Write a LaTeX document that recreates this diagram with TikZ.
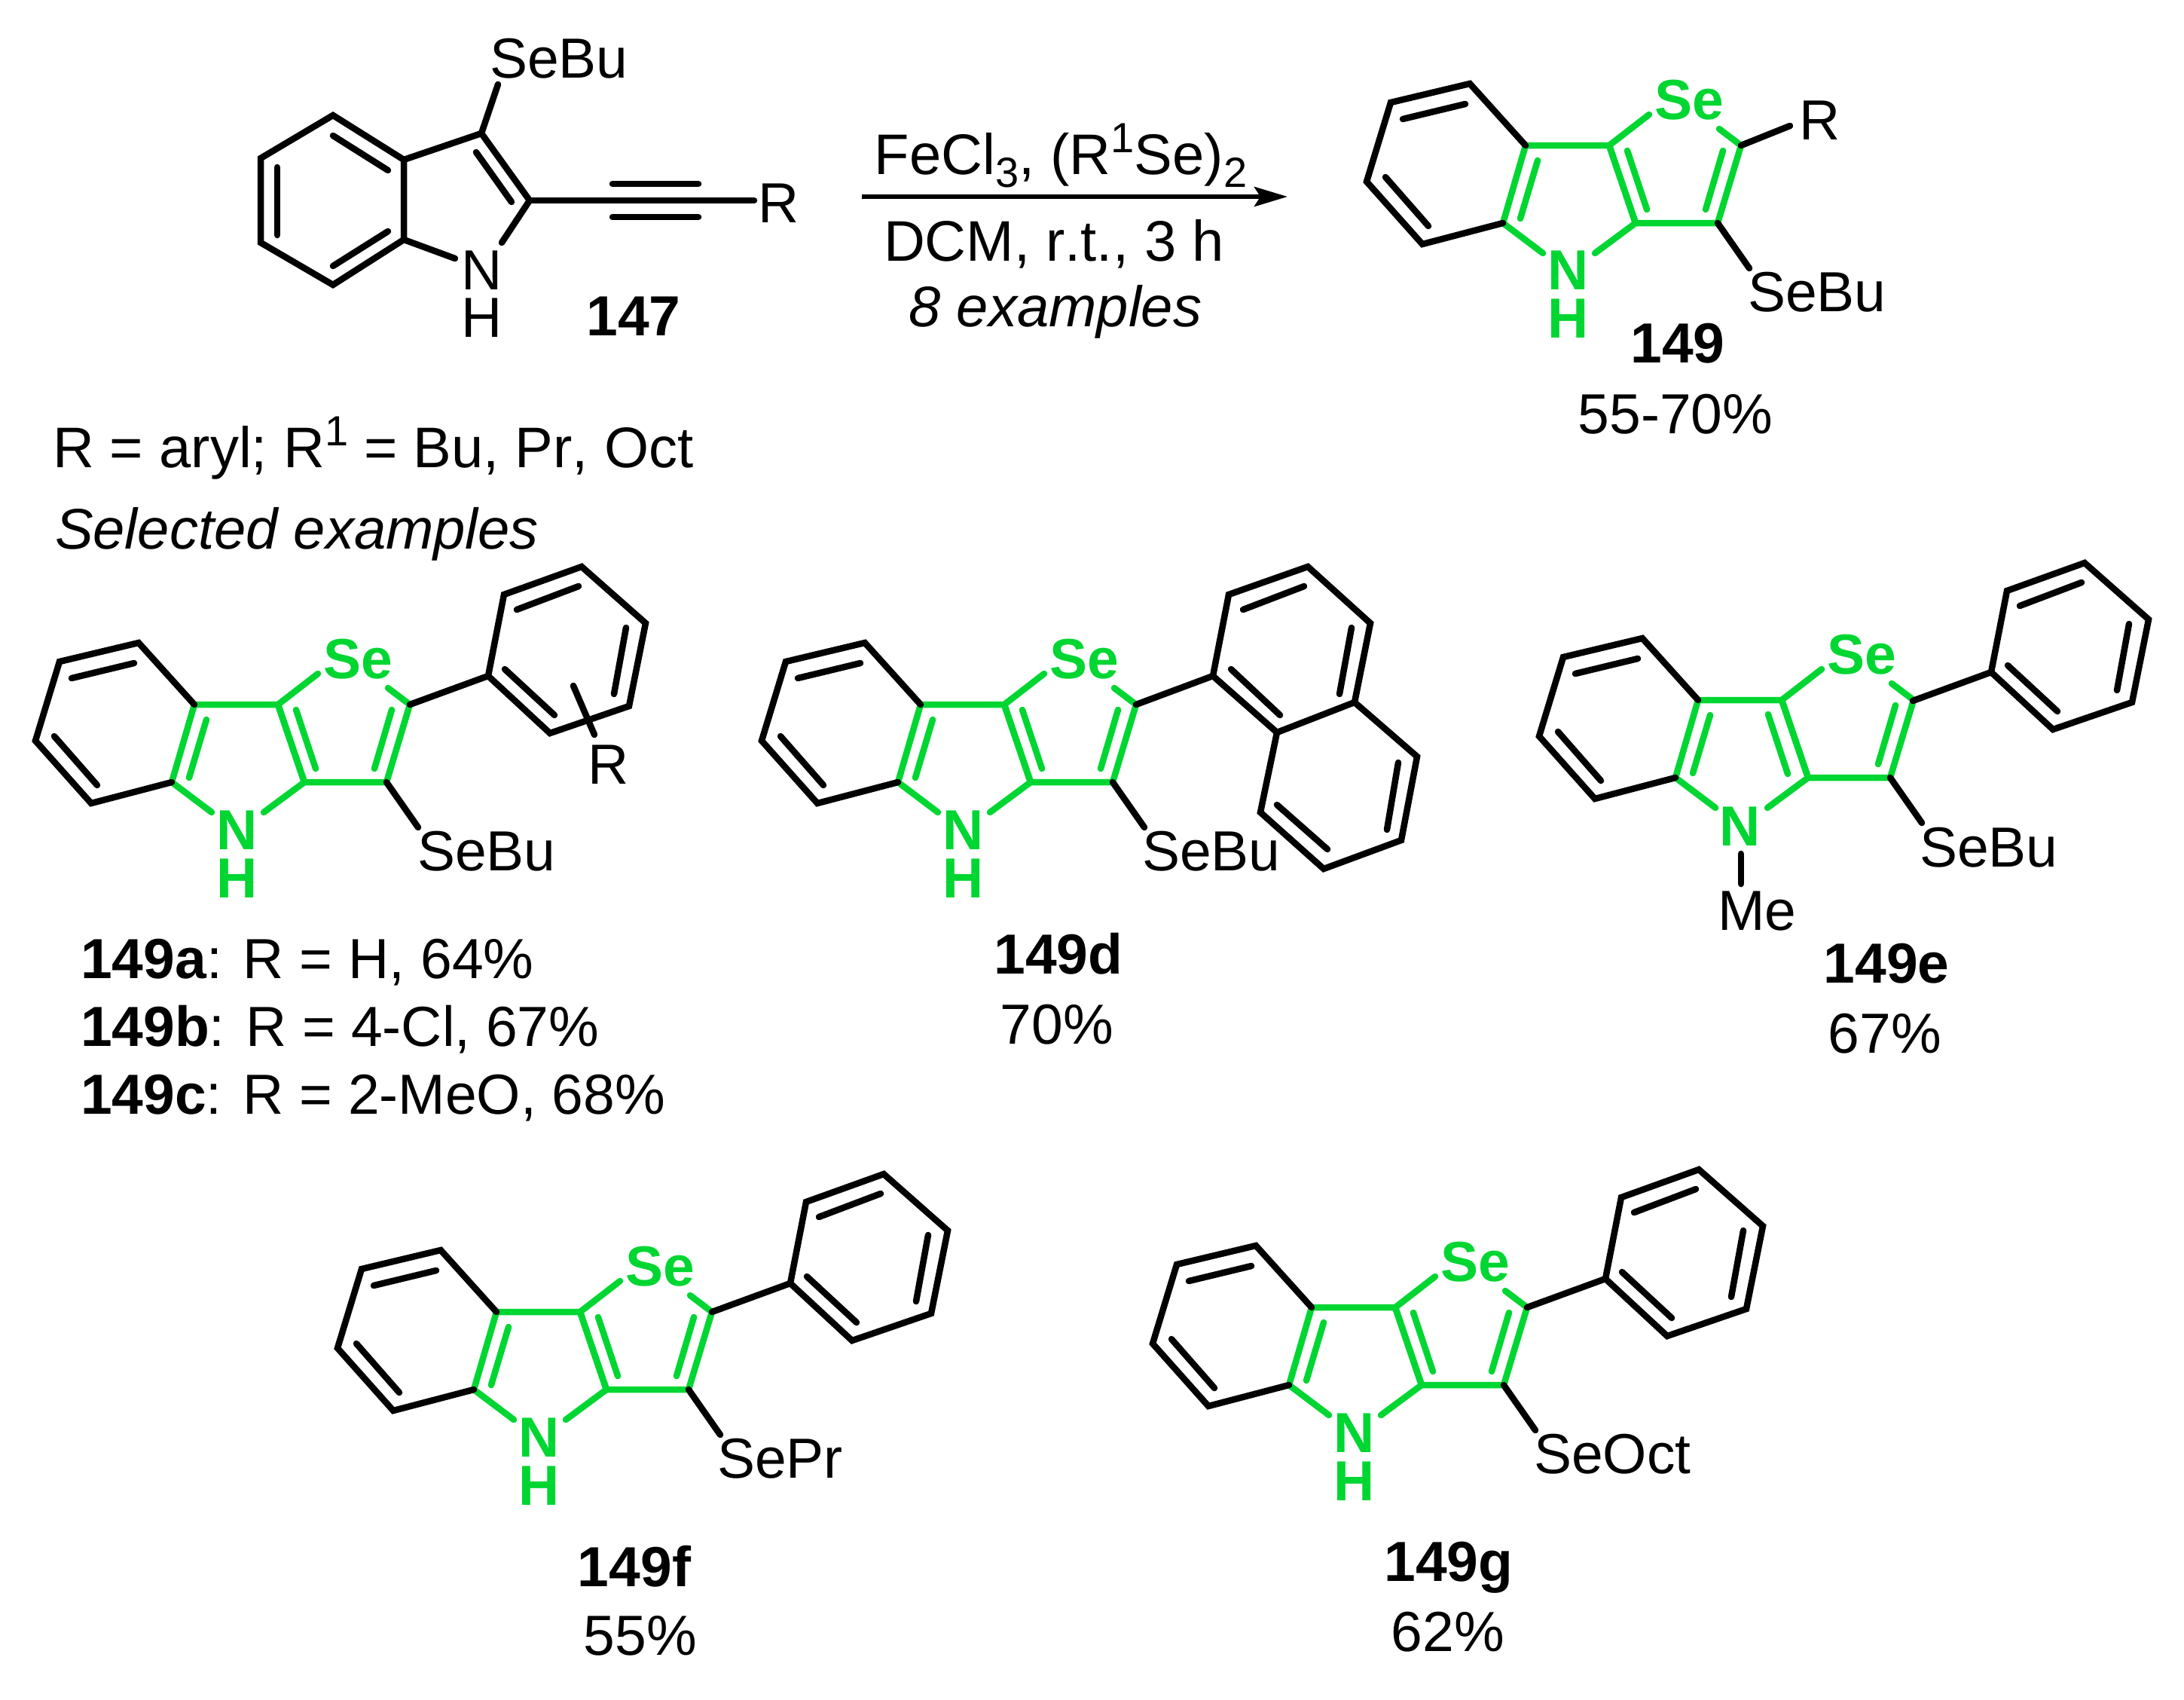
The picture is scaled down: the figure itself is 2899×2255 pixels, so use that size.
\documentclass[tikz,border=0pt]{standalone}
\usepackage{fontspec}
\setmainfont{Liberation Sans}[Kerning=Off]
\usetikzlibrary{arrows.meta}
\definecolor{hl}{HTML}{00D632}
\newcommand{\subx}[1]{\raisebox{-17pt}{\fontsize{56}{56}\selectfont #1}}
\newcommand{\supx}[1]{\raisebox{29pt}{\fontsize{56}{56}\selectfont #1}}
\tikzset{
  bk/.style={draw=black,line width=8.5pt,line cap=round,line join=miter},
  gb/.style={draw=hl,line width=8.5pt,line cap=round,line join=miter},
  txt/.style={inner sep=0pt,outer sep=0pt,font=\fontsize{75}{80}\selectfont,text=black},
  wtxt/.style={inner sep=0pt,outer sep=0pt,font=\fontsize{76}{80}\selectfont,text=black},
  gtxt/.style={inner sep=0pt,outer sep=0pt,font=\fontsize{75}{80}\selectfont\bfseries,text=hl},
  core/.pic={
    \coordinate (-F) at (258,935); \coordinate (-A) at (184,853); \coordinate (-B) at (79,878);
    \coordinate (-C) at (47,983); \coordinate (-D) at (121,1066); \coordinate (-E) at (228,1038);
    \coordinate (-G) at (369,935); \coordinate (-H) at (404,1038); \coordinate (-I) at (513,1038);
    \coordinate (-J) at (544,935); \coordinate (-sb) at (555,1098);
    \coordinate (-n1) at (281,1078); \coordinate (-n2) at (350,1078);
    \coordinate (-s1) at (422,894); \coordinate (-s2) at (515,913);
    \coordinate (-i1) at (95,900); \coordinate (-i2) at (178,880);
    \coordinate (-i3) at (72,977); \coordinate (-i4) at (129,1042);
    \coordinate (-i5) at (274,955); \coordinate (-i6) at (251,1032);
    \coordinate (-i7) at (520,942); \coordinate (-i8) at (497,1020);
    \coordinate (-q1) at (393,942); \coordinate (-q2) at (419,1020);
    \coordinate (-r1) at (351,954); \coordinate (-r2) at (377,1033);
    \draw[gb,line cap=butt] (-E) -- (-F) -- (-G) -- (-H) -- (-I) -- (-J);
    \draw[gb] (-G) -- (-H);
    \draw[gb] (-E) -- (-n1);
    \draw[gb] (-H) -- (-n2);
    \draw[gb] (-G) -- (-s1);
    \draw[gb] (-J) -- (-s2);
    \draw[gb] (-i5) -- (-i6);
    \draw[gb] (-i7) -- (-i8);
    \draw[bk] (-F) -- (-A) -- (-B) -- (-C) -- (-D) -- (-E);
    \draw[bk] (-i1) -- (-i2);
    \draw[bk] (-i3) -- (-i4);
    \draw[bk] (-I) -- (-sb);
    \node[gtxt,anchor=base] (-Se) at (475,900) {Se};
  },
  phenyl/.pic={
    \coordinate (-J) at (544,935); \coordinate (-a) at (648,897); \coordinate (-b) at (669,789);
    \coordinate (-c) at (772,752); \coordinate (-d) at (857,827); \coordinate (-e) at (835,937);
    \coordinate (-f) at (730,973);
    \coordinate (-j1) at (670,888); \coordinate (-j2) at (736,949);
    \coordinate (-j3) at (686,809); \coordinate (-j4) at (768,778);
    \coordinate (-j5) at (831,833); \coordinate (-j6) at (815,921);
    \draw[bk] (-J) -- (-a);
    \draw[bk] (-a) -- (-b) -- (-c) -- (-d) -- (-e) -- (-f) -- cycle;
    \draw[bk] (-j1) -- (-j2);
    \draw[bk] (-j3) -- (-j4);
    \draw[bk] (-j5) -- (-j6);
  },
  nh/.pic={
    \node[gtxt,anchor=base] (-N) at (315,1127) {N};
    \node[gtxt,anchor=base] (-Hn) at (315,1191) {H};
  }
}
\begin{document}
\begin{tikzpicture}[x=1pt,y=-1pt]
\useasboundingbox (0,0) rectangle (2899,2255);

% starting material 147
\coordinate (p1) at (442,153); \coordinate (p2) at (346,210); \coordinate (p3) at (346,322);
\coordinate (p4) at (442,378); \coordinate (p5) at (536,318); \coordinate (p6) at (536,212);
\coordinate (p7) at (639,177); \coordinate (p8) at (703,266);
\coordinate (pS) at (661,112); \coordinate (pR) at (1001,266);
\coordinate (pn1) at (604,343); \coordinate (pn2) at (666,322);
\coordinate (t1) at (813,244); \coordinate (t2) at (927,244);
\coordinate (t3) at (813,288); \coordinate (t4) at (927,288);
\coordinate (k1) at (442,180); \coordinate (k2) at (515,226);
\coordinate (k3) at (368,222); \coordinate (k4) at (368,312);
\coordinate (k5) at (442,353); \coordinate (k6) at (515,307);
\coordinate (k7) at (632,202); \coordinate (k8) at (679,268);
\draw[bk] (p6) -- (p1) -- (p2) -- (p3) -- (p4) -- (p5) -- cycle;
\draw[bk] (p6) -- (p7) -- (p8);
\draw[bk] (p5) -- (pn1);
\draw[bk] (p8) -- (pn2);
\draw[bk] (p7) -- (pS);
\draw[bk] (p8) -- (pR);
\draw[bk] (t1) -- (t2);
\draw[bk] (t3) -- (t4);
\draw[bk] (k1) -- (k2);
\draw[bk] (k3) -- (k4);
\draw[bk] (k5) -- (k6);
\draw[bk] (k7) -- (k8);
\node[txt,anchor=base west] (m1) at (650,103) {SeBu};
\node[txt,anchor=base west] (m2) at (1006,295) {R};
\node[txt,anchor=base] (m3) at (640,384) {N};
\node[txt,anchor=base] (m4) at (640,447) {H};
\node[txt,anchor=base,font=\fontsize{75}{80}\selectfont\bfseries] (m5) at (841,445) {147};

% arrow and conditions
\coordinate (arA) at (1144,261); \coordinate (arB) at (1709,261);
\draw[line width=6pt,-{Stealth[length=44pt,width=26pt,inset=8pt]}] (arA) -- (arB);
\node[wtxt,anchor=base] (c1) at (1408,231) {FeCl\subx{3}, (R\supx{1}Se)\subx{2}};
\node[wtxt,anchor=base] (c2) at (1399,346) {DCM, r.t., 3 h};
\node[wtxt,anchor=base] (c3) at (1401,433) {\itshape 8 examples};

% product 149
\pic (top) at (1767,-742) {core};
\pic (toph) at (1767,-743) {nh};
\draw[gb] (top-q1) -- (top-q2);
\coordinate (topR) at (2376,167);
\draw[bk] (top-J) -- (topR);
\node[txt,anchor=base west] (t5) at (2388,185) {R};
\node[txt,anchor=base west] (t6) at (2320,413) {SeBu};
\node[txt,anchor=base,font=\fontsize{75}{80}\selectfont\bfseries] (t7) at (2227,481) {149};
\node[txt,anchor=base] (t8) at (2224,575) {55-70\%};

% left text
\node[wtxt,anchor=base west] (l1) at (70,620) {R = aryl; R\supx{1} = Bu, Pr, Oct};
\node[wtxt,anchor=base west] (l2) at (73,728) {\itshape Selected examples};

% 149a
\pic (a) at (0,0) {core};
\pic (ah) at (0,0) {nh};
\pic (ap) at (0,0) {phenyl};
\draw[gb] (a-q1) -- (a-q2);
\coordinate (aR1) at (761,910); \coordinate (aR2) at (789,975);
\draw[bk] (aR1) -- (aR2);
\node[txt,anchor=base] (a1) at (808,1040) {R};
\node[txt,anchor=base west] (a2) at (554,1155) {SeBu};
\node[txt,anchor=base west] (a3) at (107,1298) {\textbf{149a}: R = H, 64\%};
\node[txt,anchor=base west] (a4) at (107,1388) {\textbf{149b}: R = 4-Cl, 67\%};
\node[txt,anchor=base west] (a5) at (107,1478) {\textbf{149c}: R = 2-MeO, 68\%};

% 149d
\pic (d) at (964,0) {core};
\pic (dh) at (964,0) {nh};
\draw[gb] (d-q1) -- (d-q2);
\coordinate (n1) at (1610,897); \coordinate (n2) at (1631,789); \coordinate (n3) at (1736,752);
\coordinate (n4) at (1819,827); \coordinate (n5) at (1798,932); \coordinate (n6) at (1695,972);
\coordinate (n7) at (1881,1004); \coordinate (n8) at (1860,1115); \coordinate (n9) at (1757,1153);
\coordinate (n10) at (1673,1078);
\coordinate (v1) at (1634,888); \coordinate (v2) at (1699,949);
\coordinate (v3) at (1650,809); \coordinate (v4) at (1731,778);
\coordinate (v5) at (1794,833); \coordinate (v6) at (1778,921);
\coordinate (v7) at (1856,1012); \coordinate (v8) at (1841,1101);
\coordinate (v9) at (1695,1068); \coordinate (v10) at (1762,1127);
\draw[bk] (d-J) -- (n1);
\draw[bk] (n1) -- (n2) -- (n3) -- (n4) -- (n5) -- (n6) -- cycle;
\draw[bk] (n5) -- (n7) -- (n8) -- (n9) -- (n10) -- (n6);
\draw[bk] (v1) -- (v2);
\draw[bk] (v3) -- (v4);
\draw[bk] (v5) -- (v6);
\draw[bk] (v7) -- (v8);
\draw[bk] (v9) -- (v10);
\node[txt,anchor=base west] (d1) at (1516,1155) {SeBu};
\node[txt,anchor=base,font=\fontsize{75}{80}\selectfont\bfseries] (d2) at (1405,1292) {149d};
\node[txt,anchor=base] (d3) at (1403,1385) {70\%};

% 149e
\pic (e) at (1996,-6) {core};
\pic (ep) at (1995,-5) {phenyl};
\draw[gb] (e-r1) -- (e-r2);
\node[gtxt,anchor=base] (eN) at (2310,1122) {N};
\coordinate (eM1) at (2311,1133); \coordinate (eM2) at (2311,1173);
\draw[bk] (eM1) -- (eM2);
\node[txt,anchor=base west] (e1) at (2280,1234) {Me};
\node[txt,anchor=base west] (e2) at (2548,1150) {SeBu};
\node[txt,anchor=base,font=\fontsize{75}{80}\selectfont\bfseries] (e3) at (2504,1304) {149e};
\node[txt,anchor=base] (e4) at (2502,1397) {67\%};

% 149f
\pic (f) at (401,806) {core};
\pic (fh) at (401,806) {nh};
\pic (fp) at (401,806) {phenyl};
\draw[gb] (f-q1) -- (f-q2);
\node[txt,anchor=base west] (f1) at (952,1961) {SePr};
\node[txt,anchor=base,font=\fontsize{75}{80}\selectfont\bfseries] (f2) at (842,2105) {149f};
\node[txt,anchor=base] (f3) at (850,2196) {55\%};

% 149g
\pic (g) at (1483,800) {core};
\pic (gh) at (1483,800) {nh};
\pic (gp) at (1483,800) {phenyl};
\draw[gb] (g-q1) -- (g-q2);
\node[txt,anchor=base west] (g1) at (2036,1955) {SeOct};
\node[txt,anchor=base,font=\fontsize{75}{80}\selectfont\bfseries] (g2) at (1923,2098) {149g};
\node[txt,anchor=base] (g3) at (1922,2191) {62\%};
\end{tikzpicture}
\end{document}
